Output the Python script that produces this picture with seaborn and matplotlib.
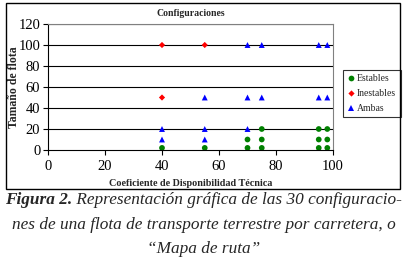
import matplotlib
matplotlib.use("Agg")
import matplotlib.pyplot as plt
import seaborn as sns
import pandas as pd
from matplotlib.patches import Rectangle

sns.set_style("white")
plt.rcParams['font.family'] = ['Liberation Serif', 'DejaVu Serif']

# data
estables_x = [40, 55, 70, 70, 75, 75, 75, 95, 95, 95, 98, 98, 98]
estables_y = [2, 2, 2, 10, 2, 10, 20, 2, 10, 20, 2, 10, 20]
inestables_x = [40, 40, 55]
inestables_y = [100, 50, 100]
ambas_x = [40, 40, 55, 55, 55, 70, 70, 70, 75, 75, 95, 95, 98, 98]
ambas_y = [20, 10, 50, 20, 10, 100, 50, 20, 100, 50, 100, 50, 100, 50]

df = pd.concat([
    pd.DataFrame({"x": estables_x, "y": estables_y, "grupo": "Estables"}),
    pd.DataFrame({"x": inestables_x, "y": inestables_y, "grupo": "Inestables"}),
    pd.DataFrame({"x": ambas_x, "y": ambas_y, "grupo": "Ambas"}),
])

W, H = 407, 259
fig = plt.figure(figsize=(W / 100, H / 100), dpi=100)
# outer chart frame
fig.patches.append(Rectangle((6 / W, 1 - 189 / H), 394 / W, 186 / H,
                             transform=fig.transFigure, fill=False,
                             edgecolor="black", linewidth=1.0))
ax = fig.add_axes([48 / W, 1 - 150 / H, 285 / W, 126 / H])

palette = {"Estables": "#008000", "Inestables": "#ff0000", "Ambas": "#0000ff"}
markers = {"Estables": "o", "Inestables": "D", "Ambas": "^"}
sizes = {"Estables": 17, "Inestables": 10, "Ambas": 18}
sns.scatterplot(data=df, x="x", y="y", hue="grupo", style="grupo", size="grupo",
                palette=palette, markers=markers, sizes=sizes, linewidth=0, ax=ax)

ax.set_xlim(0, 100)
ax.set_ylim(0, 120)
ax.set_xticks(range(0, 101, 20))
ax.set_yticks(range(0, 121, 20))
for v in range(20, 121, 20):
    ax.axhline(v, color="black", linewidth=0.8, zorder=0)
ax.tick_params(axis="both", labelsize=10.5, length=3.5, width=0.8, direction="out",
               bottom=True, left=True, colors="black")
ax.tick_params(axis="x", pad=4)
ax.tick_params(axis="y", pad=2)
for side in ["left", "bottom"]:
    ax.spines[side].set_color("black")
    ax.spines[side].set_linewidth(0.8)
for side in ["top", "right"]:
    ax.spines[side].set_color("#808080")
    ax.spines[side].set_linewidth(0.8)

ax.set_title("Configuraciones", fontsize=7, fontweight="bold", pad=6)
ax.set_xlabel("Coeficiente de Disponibilidad Técnica", fontsize=7.3, fontweight="bold",
              va="center")
ax.xaxis.set_label_coords(0.5, -34 / 126)
ax.set_ylabel("Tamaño de flota", fontsize=8.5, fontweight="bold", va="center")
ax.yaxis.set_label_coords(-34 / 285, 0.5)

leg = ax.legend(loc="upper left", bbox_to_anchor=(343 / W, 1 - 70 / H),
                bbox_transform=fig.transFigure, borderaxespad=0, fontsize=7,
                frameon=True, fancybox=False, edgecolor="black", borderpad=0.45,
                handletextpad=0.2, labelspacing=0.6, handlelength=0.8)
leg.get_frame().set_linewidth(0.8)

# caption
fs = 12.4
t1 = fig.text(5 / W, 1 - 204 / H, "Figura 2.", fontsize=fs, style="italic",
              fontweight="bold", va="baseline", ha="left")
fig.canvas.draw()
bb = t1.get_window_extent()
fig.text(bb.x1 / fig.bbox.width, 1 - 204 / H,
         " Representación gráfica de las 30 configuracio-", fontsize=fs,
         style="italic", va="baseline", ha="left")
fig.text(0.5, 1 - 229 / H, "nes de una flota de transporte terrestre por carretera, o",
         fontsize=fs, style="italic", va="baseline", ha="center")
fig.text(0.5, 1 - 253 / H, "“Mapa de ruta”", fontsize=fs, style="italic",
         va="baseline", ha="center")

fig.savefig("out.png", dpi=100)
